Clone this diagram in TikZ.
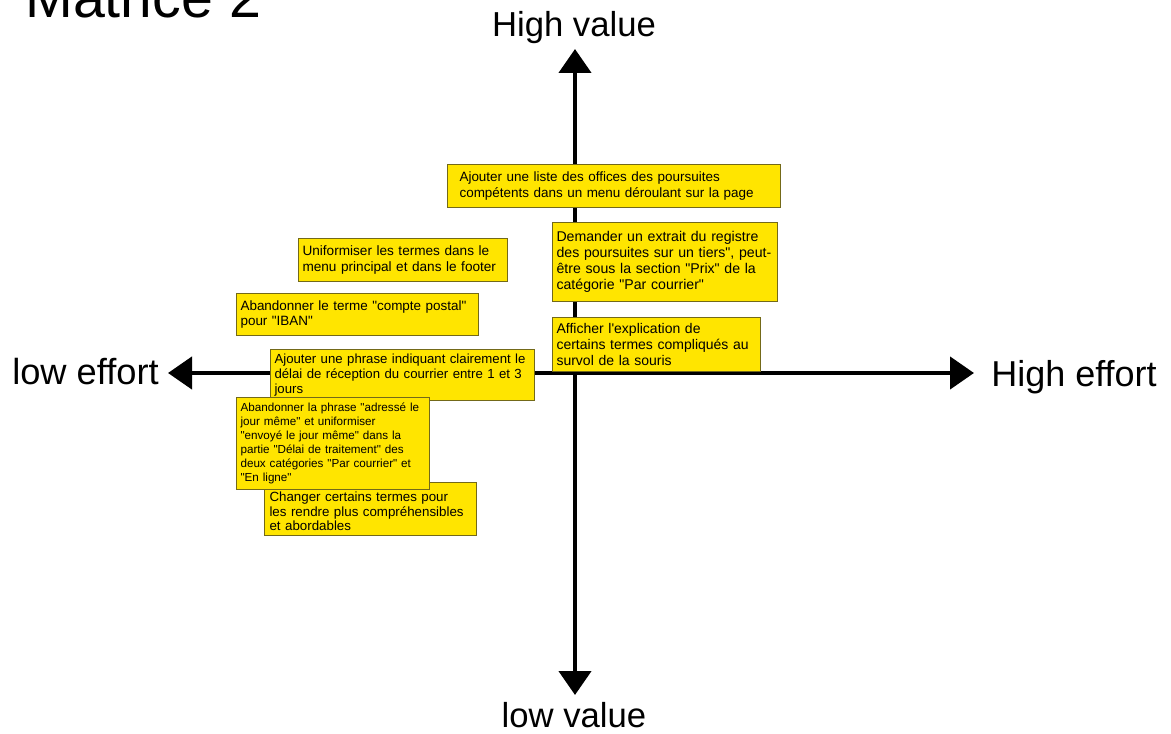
\documentclass[tikz,border=0pt]{standalone}
\usepackage{fontspec}
\setmainfont{Liberation Sans}[Ligatures=TeXOff]
\usetikzlibrary{arrows.meta}
\definecolor{notefill}{RGB}{255,229,0}
\definecolor{noteline}{RGB}{115,105,25}

\begin{document}
\begin{tikzpicture}[x=0.75pt,y=0.75pt,yscale=-1,xscale=1,
  axis/.style={line width=3.3pt,{Triangle[length=18pt,width=24pt]}-{Triangle[length=18pt,width=24pt]}},
  note/.style={draw=noteline,fill=notefill,line width=0.8pt,anchor=north west,align=left,inner xsep=3pt,inner ysep=1pt},
  axislabel/.style={font=\fontsize{26}{30}\selectfont,inner sep=0pt}]
\useasboundingbox (0,0) rectangle (1171,734);

%Axes
\coordinate (vtop) at (575,49);
\coordinate (vbot) at (575,695);
\coordinate (hleft) at (168,373);
\coordinate (hright) at (974,373);
\draw [axis] (vbot) -- (vtop);
\draw [axis] (hleft) -- (hright);

% Title
\node [anchor=base west,inner sep=0pt,font=\fontsize{43}{50}\selectfont] (titre) at (25,18) {Matrice 2};
% Axis labels
\node [axislabel,anchor=base] (highvalue) at (574,37) {High value};
\node [axislabel,anchor=base] (lowvalue) at (574,727) {low value};
\node [axislabel,anchor=base west,font=\fontsize{27.2}{30}\selectfont] (loweffort) at (12,384) {low effort};
\node [axislabel,anchor=base west,font=\fontsize{27}{30}\selectfont] (higheffort) at (991,386.5) {High effort};

% Notes
\node [note,inner xsep=9pt,text width=231.75pt,minimum height=32.25pt,font=\fontsize{10.1}{11.8}\selectfont] (liste) at (447,164)
  {Ajouter une liste des offices des poursuites\\compétents dans un menu déroulant sur la page};
\node [note,text width=162.75pt,minimum height=59.25pt,font=\fontsize{10.6}{11.85}\selectfont] (extrait) at (552,222)
  {Demander un extrait du registre\\des poursuites sur un tiers", peut-\\être sous la section "Prix" de la\\catégorie "Par courrier"};
\node [note,text width=150.75pt,minimum height=32.25pt,font=\fontsize{10.2}{11.5}\selectfont] (uniformiser) at (298,238)
  {Uniformiser les termes dans le\\menu principal et dans le footer};
\node [note,text width=175.5pt,minimum height=31.5pt,font=\fontsize{10.1}{11.3}\selectfont] (iban) at (236,293)
  {Abandonner le terme "compte postal"\\pour "IBAN"};
\node [note,text width=192pt,minimum height=38.25pt,font=\fontsize{9.9}{11.3}\selectfont] (delai) at (270,349)
  {Ajouter une phrase indiquant clairement le\\délai de réception du courrier entre 1 et 3\\jours};
\node [note,text width=150pt,minimum height=40.5pt,font=\fontsize{10.5}{12}\selectfont] (survol) at (552,317)
  {Afficher l'explication de\\certains termes compliqués au\\survol de la souris};
\node [note,inner xsep=3.75pt,text width=151.5pt,minimum height=39.75pt,font=\fontsize{10}{11}\selectfont] (termes) at (264,482)
  {\rule{0pt}{11pt}Changer certains termes pour\\les rendre plus compréhensibles\\et abordables};
\node [note,text width=138.75pt,minimum height=69pt,font=\fontsize{8.75}{10.6}\selectfont] (jourmeme) at (236,397)
  {Abandonner la phrase "adressé le\\jour même" et uniformiser\\"envoyé le jour même" dans la\\partie "Délai de traitement" des\\deux catégories "Par courrier" et\\"En ligne"};
\end{tikzpicture}
\end{document}
